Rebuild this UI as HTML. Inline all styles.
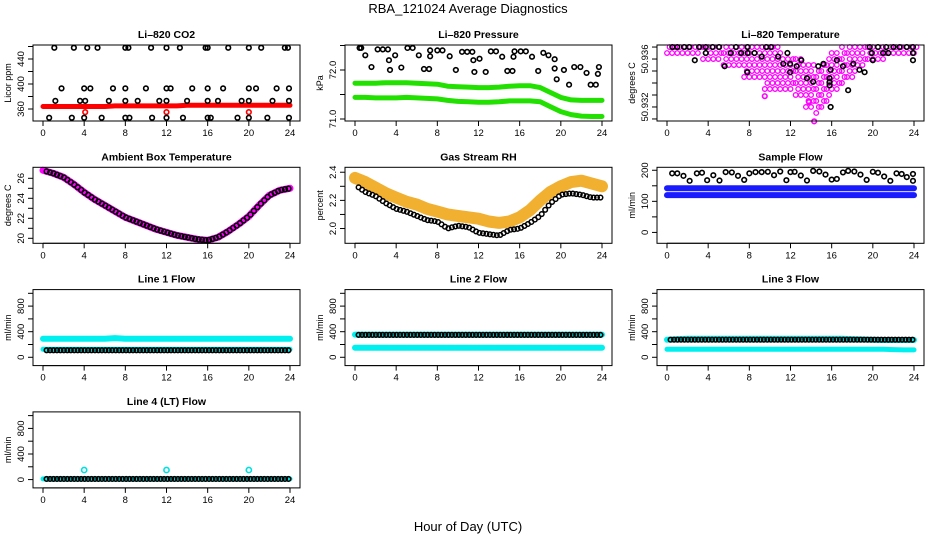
<!DOCTYPE html>
<html><head><meta charset="utf-8"><style>
html,body{margin:0;padding:0;background:#fff;}
svg{display:block;font-family:"Liberation Sans",Arial,sans-serif;}
</style></head><body>
<svg id="chart" width="936" height="540" viewBox="0 0 936 540">
<text x="468" y="13" text-anchor="middle" font-size="13">RBA_121024  Average Diagnostics</text>
<text x="468" y="531" text-anchor="middle" font-size="13">Hour of Day (UTC)</text>
</svg>
<script>
// ---- data ----
const hrs = [0,1,2,3,4,5,6,7,8,9,10,11,12,13,14,15,16,17,18,19,20,21,22,23,24];
const xTicks = [0,4,8,12,16,20,24];

// CO2
const co2Red = [364,364,364,364,364,364,364,365,365,365,365,365,365,365,366,366,366,366,366,366,366,366,366,366,366];
const co2BlackH = [1.1,3.0,4.3,5.3,8.0,8.3,10.5,12.0,13.3,15.8,16.0,18.0,20.0,21.2,23.5,23.8, 1.8,4.0,4.6,6.8,8.0,10.0,12.0,12.4,14.5,16.0,17.5,20.0,20.7,22.7,23.9, 1.2,3.6,4.1,6.4,8.0,9.2,11.3,12.0,14.0,16.0,17.0,19.3,20.0,22.3,23.9, 0.6,2.8,4.0,5.7,8.0,8.4,10.6,12.0,13.6,16.0,16.3,18.9,20.0,21.8,23.9];
const co2BlackV = [458,458,458,458,458,458,458,458,458,458,458,458,458,458,458,458, 393,393,393,393,393,393,393,393,393,393,393,393,393,393,393, 373,373,373,373,373,373,373,373,373,373,373,373,373,373,373, 346,346,346,346,346,346,346,346,346,346,346,346,346,346,346];
const co2RedOutH = [4.1,12.0,20.0];
const co2RedOutV = [355,355,355];

// Pressure
const presUpper = [71.73,71.73,71.73,71.74,71.74,71.74,71.73,71.72,71.71,71.67,71.66,71.65,71.64,71.64,71.65,71.67,71.68,71.68,71.64,71.54,71.44,71.39,71.38,71.38,71.38];
const presLower = [71.44,71.44,71.43,71.43,71.43,71.44,71.43,71.42,71.41,71.38,71.36,71.35,71.34,71.34,71.35,71.37,71.37,71.37,71.35,71.25,71.15,71.09,71.06,71.05,71.05];
const presBlackH = [0.45,0.6,1.0,1.6,2.2,2.7,3.2,3.3,3.4,3.9,4.5,5.1,5.6,6.2,6.7,7.2,7.3,7.3,8.0,8.5,9.2,9.8,10.4,10.9,11.4,11.5,12.1,11.6,12.7,13.2,13.7,14.3,14.8,15.3,15.4,15.5,16.1,16.6,17.2,17.8,18.3,18.8,19.4,19.4,19.6,20.3,20.8,21.3,21.9,22.5,22.9,23.4,23.6,23.7];
const presBlackV = [72.45,72.45,72.3,72.06,72.42,72.42,72.42,72.2,72.0,72.3,72.05,72.45,72.45,72.3,72.02,72.02,72.28,72.4,72.4,72.4,72.28,72.0,72.37,72.37,72.37,72.2,72.23,71.96,71.96,72.38,72.38,72.27,71.98,71.98,72.27,72.38,72.38,72.38,72.27,71.98,72.35,72.3,72.22,72.03,71.81,72.0,71.7,72.06,72.06,71.94,71.7,71.7,71.92,72.06];

// Li-820 temperature (offset in thousandths above 50.930)
const magH   = [0,0.5,1,1.5,2,2.5,3,3.5,4,4.5,5,5.5,6,6.5,7,7.5,8,8.5,9,9.5,10,10.5,11,11.5,12,12.5,13,13.5,14,14.5,15,15.5,16,16.5,17,17.5,18,18.5,19,19.5,20,20.5,21,21.5,22,22.5,23,23.5,24];
const magTop = [7,7,7,7,7,7,7,7,7,7,7,7,7,7,7,7,7,7,7,7,7,7,6.5,6,6,6,6,5.5,5.5,5,5.5,6,6.5,6.5,7,7,7,7,7,7,7,7,7,7,7,7,7,7,7];
const magBot = [6.5,6.5,6.5,6.5,6.5,6.5,6.5,6,6,6,6,5.5,5.5,5.5,5.5,4.5,4.5,4.5,4.5,3.5,3.5,3.5,3.5,3.5,3.5,3,3,2,2,1.5,2,2.5,3.5,3.5,4,4.5,4.5,5.5,5.5,6,6,6,6,6.5,6.5,6.5,6.5,6.5,6.5];
const magLowH = [14.3,9.5,13.8];
const magLowV = [0.8,2.9,2.4];
const tempBlackH = [0.52,1.0,1.66,2.15,3.12,3.77,4.42,5.07,6.7,7.84,9.63,10.1,19.7,20.5,21.3,22.0,22.6,23.3,23.9, 3.77,6.2,7.2,7.84,8.5,11.7,19.9,21.0,21.5,23.9, 9.2,10.8, 2.7,13.05,16.5,20.0,23.9, 11.3,11.96,15.2,18.1, 5.6,12.6,14.7,17.1, 15.9,18.7, 7.8,11.96,19.2, 13.6,15.8, 14.2,15.8, 15.8, 17.6, 15.9];
const tempBlackV = [7,7,7,7,7,7,7,7,7,7,7,7,7,7,7,7,7,7,7, 6.5,6.5,6.5,6.5,6.5,6.5,6.5,6.5,6.5,6.5, 6.2,6.2, 5.9,5.9,5.9,5.9,5.9, 5.6,5.6,5.6,5.6, 5.4,5.4,5.4,5.4, 5.1,5.1, 4.9,4.9,4.9, 4.4,4.4, 4.1,4.1, 3.8, 3.4, 2.0];

// Ambient box temperature
const ambient = [26.8,26.5,26.1,25.4,24.6,23.9,23.3,22.7,22.1,21.7,21.3,20.9,20.6,20.3,20.1,19.9,19.8,20.1,20.7,21.4,22.2,23.3,24.3,24.8,25.0];

// Gas stream RH
const rhBand = [2.36,2.33,2.29,2.25,2.22,2.19,2.17,2.14,2.12,2.10,2.09,2.08,2.07,2.05,2.04,2.05,2.08,2.13,2.20,2.26,2.30,2.33,2.34,2.32,2.30];
const rhBlack = [2.31,2.26,2.23,2.18,2.14,2.12,2.09,2.06,2.05,2.00,2.02,2.01,1.97,1.96,1.95,1.99,2.00,2.04,2.09,2.18,2.24,2.25,2.24,2.22,2.22];

// Sample flow
const sfBlue1 = [142,142,142,142,142,142,142,142,142,142,142,142,142,142,142,142,142,142,142,142,142,142,142,142,142];
const sfBlue2 = [120,120,120,120,120,120,120,120,120,120,120,120,120,120,120,120,120,120,120,120,120,120,120,120,120];
const sfBlackH = [0.5,1.0,1.6,2.2,2.9,3.4,3.9,4.5,5.1,5.7,6.3,6.9,7.5,8.0,8.6,9.2,9.8,10.4,11.0,11.6,12.0,12.4,13.0,13.6,14.2,14.8,15.4,16.0,16.5,17.1,17.6,18.2,18.8,19.4,20.0,20.5,21.1,21.7,22.3,22.8,23.3,23.9,23.9];
const sfBlackV = [190,190,182,166,190,192,168,184,167,194,193,182,169,190,194,194,195,184,196,168,194,195,183,167,198,196,186,170,172,193,198,196,186,169,195,192,180,166,190,188,178,166,188];

// Line flows
const l1Cyan1 = [290,290,290,290,290,290,290,300,290,290,290,290,290,290,290,290,290,290,290,290,290,290,290,290,290];
const l1Cyan2 = [125,125,125,125,125,125,125,125,125,125,125,125,125,125,125,125,125,125,125,125,125,125,125,125,125];
const l1Black = [110,110,110,110,110,110,110,110,110,110,110,110,110,110,110,110,110,110,110,110,110,110,110,110,110];
const l2Cyan1 = [355,355,355,355,355,355,355,355,355,355,355,355,355,355,355,355,355,355,355,355,355,355,355,355,355];
const l2Cyan2 = [150,150,150,150,150,150,150,150,150,150,150,150,150,150,150,150,150,150,150,150,150,150,150,150,150];
const l2Black = [350,350,350,350,350,350,350,350,350,350,350,350,350,350,350,350,350,350,350,350,350,350,350,350,350];
const l3Cyan1 = [275,285,290,290,290,290,290,290,290,290,290,290,290,290,290,290,290,290,285,280,275,270,270,270,270];
const l3Cyan2 = [125,125,125,125,125,125,125,125,125,125,125,125,125,125,125,125,125,125,125,125,125,125,120,115,115];
const l3Black = [275,275,275,275,275,275,275,275,275,275,275,275,275,275,275,275,275,275,275,275,275,275,275,275,275];
const l4Black = [10,10,10,10,10,10,10,10,10,10,10,10,10,10,10,10,10,10,10,10,10,10,10,10,10];
const l4SpikeH = [4,12,20];
const l4SpikeV = [150,150,150];

// ---- drawing ----
const NS = 'http://www.w3.org/2000/svg';
const svg = document.getElementById('chart');
function el(tag, attrs, parent){const e=document.createElementNS(NS,tag);for(const k in attrs)e.setAttribute(k,attrs[k]);(parent||svg).appendChild(e);return e;}

function makePanel(name,title,ylab,col,row,ymin,ymax,ticks,labels,fmt){
  const L=33+312*col, T=45+122.3*row, W=267, H=76;
  const g=el('g',{});
  
  
  const P={g,L,T,W,H,
    x:h=>L+10+h*247/24,
    y:v=>T+H-(v-ymin)/(ymax-ymin)*H};
  const plot=el('g',{},g);
  
  
  P.plot=plot;
  const t=el('text',{x:L+W/2,y:T-7,'text-anchor':'middle','font-size':'10.5','font-weight':'bold'},g);
  t.textContent=title;
  
  
  const yl=el('text',{transform:`translate(${L-22},${T+H/2}) rotate(-90)`,'text-anchor':'middle','font-size':'9'},g);
  yl.textContent=ylab;
  
  
  const ya=el('g',{},g);
  
  
  ticks.forEach(v=>{const yy=P.y(v);el('line',{x1:L-5,x2:L,y1:yy,y2:yy,stroke:'#000','stroke-width':1},ya);});
  labels.forEach(v=>{const yy=P.y(v);const tx=el('text',{transform:`translate(${L-9},${yy}) rotate(-90)`,'text-anchor':'middle','font-size':'9.5'},ya);tx.textContent=fmt(v);
    
    });
  el('line',{x1:L,x2:L,y1:P.y(ticks[0]),y2:P.y(ticks[ticks.length-1]),stroke:'#000'},ya);
  const xa=el('g',{},g);
  
  
  el('line',{x1:P.x(0),x2:P.x(24),y1:T+H,y2:T+H,stroke:'#000'},xa);
  xTicks.forEach(h=>{const xx=P.x(h);el('line',{x1:xx,x2:xx,y1:T+H,y2:T+H+5,stroke:'#000'},xa);
    const tx=el('text',{x:xx,y:T+H+15,'text-anchor':'middle','font-size':'9.5'},xa);tx.textContent=h;
    
    });
  return P;
}
function finish(P){el('rect',{x:P.L,y:P.T,width:P.W,height:P.H,fill:'none',stroke:'#000','stroke-width':1},P.g);}
function band(P,name,xs,ys,color,w){
  const pts=xs.map((h,i)=>P.x(h).toFixed(1)+','+P.y(ys[i]).toFixed(1)).join(' ');
  const pl=el('polyline',{points:pts,fill:'none',stroke:color,'stroke-width':w,'stroke-linejoin':'round','stroke-linecap':'round'},P.plot);
  
  
}
function pts(P,name,xs,ys,color,r,sw){
  const g=el('g',{},P.plot);
  
  
  xs.forEach((h,i)=>el('circle',{cx:P.x(h),cy:P.y(ys[i]),r:r||2.3,fill:'none',stroke:color,'stroke-width':sw||1.6},g));
}
function subHours(){const a=[];for(let i=0;i<=70;i++)a.push(0.35+i*(23.5/70));return a;}
function sample(arr,h){const i=Math.min(23,Math.floor(h));const f=h-i;return arr[i]*(1-f)+arr[i+1]*f;}
const sh=subHours();

// CO2
let P=makePanel('co2','Li\u2013820 CO2','Licor ppm',0,0,340.8,462.4,[360,380,400,420,440,460],[360,400,440],v=>v);
band(P,'co2-red-series',hrs,co2Red,'#ff0000',5);
pts(P,'co2-red-outliers',co2RedOutH,co2RedOutV,'#ff0000');
pts(P,'co2-black-points',co2BlackH,co2BlackV,'#000');
finish(P);

// Pressure
P=makePanel('pressure','Li\u2013820 Pressure','kPa',1,0,70.959,72.51,[71.0,71.5,72.0,72.5],[71.0,72.0],v=>v.toFixed(1));
band(P,'pressure-upper-band',hrs,presUpper,'#22e000',5);
band(P,'pressure-lower-band',hrs,presLower,'#22e000',5);
pts(P,'pressure-black-points',presBlackH,presBlackV,'#000');
finish(P);

// Li-820 Temperature
P=makePanel('li820-temp','Li\u2013820 Temperature','degrees C',2,0,0.83,7.17,[1,2,3,4,5,6,7],[2,6],v=>(50.930+v/1000).toFixed(3));
{const g=el('g',{},P.plot);
 
 
 magH.forEach((h,i)=>{let k=0;for(let v=magBot[i];v<=magTop[i]+0.01;v+=0.5){
   el('circle',{cx:P.x(h+(k%2?0.25:0)),cy:P.y(v),r:2.3,fill:'none',stroke:'#ff00ff','stroke-width':1.3},g);k++;}});}
pts(P,'li820-temp-magenta-low',magLowH,magLowV,'#ff00ff');
pts(P,'li820-temp-black-points',tempBlackH,tempBlackV,'#000');
finish(P);

// Ambient
P=makePanel('ambient','Ambient Box Temperature','degrees C',0,1,19.5,27.1,[20,21,22,23,24,25,26],[20,22,24,26],v=>v);
band(P,'ambient-magenta-band',hrs,ambient,'#ff00ff',7);
pts(P,'ambient-black-points',sh,sh.map(h=>sample(ambient,h)),'#000',2.4,1.5);
finish(P);

// RH
P=makePanel('rh','Gas Stream RH','percent',1,1,1.895,2.435,[2.0,2.1,2.2,2.3,2.4],[2.0,2.2,2.4],v=>v.toFixed(1));
band(P,'rh-orange-band',hrs,rhBand,'#f2b030',12);
pts(P,'rh-black-points',sh,sh.map(h=>sample(rhBlack,h)),'#000',2.3,1.5);
finish(P);

// Sample flow
P=makePanel('sample-flow','Sample Flow','ml/min',2,1,-35,209.5,[0,50,100,150,200],[0,100,200],v=>v);
band(P,'sample-flow-blue-upper',hrs,sfBlue1,'#1a1aff',6);
band(P,'sample-flow-blue-lower',hrs,sfBlue2,'#1a1aff',6);
pts(P,'sample-flow-black-points',sfBlackH,sfBlackV,'#000');
finish(P);

const fT=[0,200,400,600,800,1000], fL=[0,400,800];
// Line 1
P=makePanel('line1','Line 1 Flow','ml/min',0,2,-130,1058,fT,fL,v=>v);
band(P,'line1-cyan-upper',hrs,l1Cyan1,'#00f0f0',6);
band(P,'line1-cyan-lower',hrs,l1Cyan2,'#00f0f0',5);
pts(P,'line1-black-points',sh,sh.map(h=>sample(l1Black,h)),'#000');
finish(P);
// Line 2
P=makePanel('line2','Line 2 Flow','ml/min',1,2,-130,1058,fT,fL,v=>v);
band(P,'line2-cyan-upper',hrs,l2Cyan1,'#00f0f0',6);
band(P,'line2-cyan-lower',hrs,l2Cyan2,'#00f0f0',6);
pts(P,'line2-black-points',sh,sh.map(h=>sample(l2Black,h)),'#000');
finish(P);
// Line 3
P=makePanel('line3','Line 3 Flow','ml/min',2,2,-130,1058,fT,fL,v=>v);
band(P,'line3-cyan-upper',hrs,l3Cyan1,'#00f0f0',6);
band(P,'line3-cyan-lower',hrs,l3Cyan2,'#00f0f0',5);
pts(P,'line3-black-points',sh,sh.map(h=>sample(l3Black,h)),'#000');
finish(P);
// Line 4
P=makePanel('line4','Line 4 (LT) Flow','ml/min',0,3,-130,1058,fT,fL,v=>v);
band(P,'line4-cyan-line',hrs,l4Black,'#00f0f0',5);
pts(P,'line4-cyan-spikes',l4SpikeH,l4SpikeV,'#00e0e0',2.6,1.6);
pts(P,'line4-black-points',sh,sh.map(h=>sample(l4Black,h)),'#000');
finish(P);
</script>
</body></html>
